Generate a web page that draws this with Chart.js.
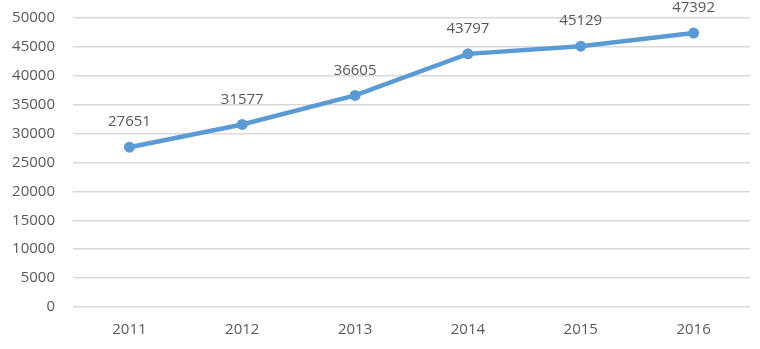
<!DOCTYPE html>
<html>
<head>
<meta charset="utf-8">
<script src="https://cdn.jsdelivr.net/npm/chart.js@4"></script>
<style>
  html, body { margin: 0; padding: 0; background: #fff; }
  #wrap { width: 760px; height: 349px; position: relative; }
</style>
</head>
<body>
<div id="wrap"><canvas id="myChart"></canvas></div>
<script>
//data
const years = ["2011", "2012", "2013", "2014", "2015", "2016"];
const values = [27651, 31577, 36605, 43797, 45129, 47392];
const yTicks = [0, 5000, 10000, 15000, 20000, 25000, 30000, 35000, 40000, 45000, 50000];

const blue = "#5b9bd5";
const textColor = "#595959";
const font = { family: "'Open Sans', sans-serif", size: 15 };

//labels above points
const pointLabels = {
  id: "pointLabels",
  afterDatasetsDraw(chart) {
    const ctx = chart.ctx;
    const meta = chart.getDatasetMeta(0);
    ctx.save();
    ctx.fillStyle = textColor;
    ctx.font = font.size + "px " + font.family;
    ctx.textAlign = "center";
    ctx.textBaseline = "middle";
    meta.data.forEach((pt, i) => {
      ctx.fillText(String(values[i]), pt.x, pt.y - 25);
    });
    ctx.restore();
  },
};

const config = {
  type: "line",
  data: {
    labels: years,
    datasets: [
      {
        data: values,
        borderColor: blue,
        backgroundColor: blue,
        borderWidth: 4.5,
        pointRadius: 5.5,
        pointHoverRadius: 5.5,
        pointBorderWidth: 0,
        tension: 0,
      },
    ],
  },
  options: {
    responsive: true,
    maintainAspectRatio: false,
    animation: false,
    layout: { autoPadding: false, padding: { top: 0, right: 10, left: 0, bottom: 0 } },
    plugins: { legend: { display: false }, tooltip: { enabled: false } },
    scales: {
      x: {
        offset: true,
        afterFit: (axis) => {
          axis.height = 42;
        },
        grid: { display: false, drawTicks: false },
        border: { display: false },
        ticks: { color: textColor, font: font, padding: 14, maxRotation: 0 },
      },
      y: {
        min: 0,
        max: 50000,
        afterBuildTicks: (axis) => {
          axis.ticks = yTicks.map((v) => ({ value: v }));
        },
        afterFit: (axis) => {
          axis.width = 73;
          axis.paddingTop = 18;
          axis.paddingBottom = 0;
        },
        grid: { color: "#d9d9d9", lineWidth: 1.5, drawTicks: false },
        border: { display: false },
        ticks: {
          color: textColor,
          font: font,
          padding: 18,
          callback: (v) => String(v),
        },
      },
    },
  },
  plugins: [pointLabels],
};

new Chart(document.getElementById("myChart"), config);
</script>
</body>
</html>
